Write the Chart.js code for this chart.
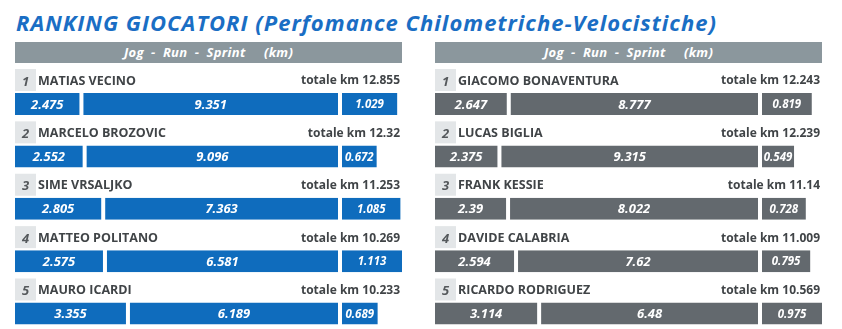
<!DOCTYPE html>
<html>
<head>
<meta charset="utf-8">
<script src="https://cdn.jsdelivr.net/npm/chart.js@4.4.1/dist/chart.umd.min.js"></script>
<style>
  html, body { margin: 0; padding: 0; background: #ffffff; }
  body { width: 842px; height: 329px; position: relative; overflow: hidden; font-family: "Open Sans", sans-serif; }
  #title { position: absolute; left: 16px; top: 11px; font: italic 700 22px/22px "Open Sans", sans-serif;
           letter-spacing: 1px; color: #1a6ec4; white-space: nowrap; }
  .head { position: absolute; top: 42px; width: 387px; height: 21px; background: #8b979d; color: #ffffff;
          font: italic 700 13px/21px "Open Sans", sans-serif; letter-spacing: 0.3px; text-align: center; white-space: pre; }
  .panel { position: absolute; top: 64px; width: 391px; height: 265px; }
</style>
</head>
<body>
<div id="title">RANKING GIOCATORI (Perfomance Chilometriche-Velocistiche)</div>
<div class="head" style="left:15px">Jog  -  Run  -  Sprint     (km)</div>
<div class="head" style="left:435px">Jog  -  Run  -  Sprint     (km)</div>
<div class="panel" style="left:13px"><canvas id="leftChart" width="391" height="265"></canvas></div>
<div class="panel" style="left:433px"><canvas id="rightChart" width="391" height="265"></canvas></div>

<script>
// Ranking positions
const ranks = [1, 2, 3, 4, 5];

// Left table (blue)
const leftPlayers = ['MATIAS VECINO', 'MARCELO BROZOVIC', 'SIME VRSALJKO', 'MATTEO POLITANO', 'MAURO ICARDI'];
const leftJog     = [2.475, 2.552, 2.805, 2.575, 3.355];
const leftRun     = [9.351, 9.096, 7.363, 6.581, 6.189];
const leftSprint  = [1.029, 0.672, 1.085, 1.113, 0.689];
const leftTotal   = [12.855, 12.32, 11.253, 10.269, 10.233];

// Right table (grey)
const rightPlayers = ['GIACOMO BONAVENTURA', 'LUCAS BIGLIA', 'FRANK KESSIE', 'DAVIDE CALABRIA', 'RICARDO RODRIGUEZ'];
const rightJog     = [2.647, 2.375, 2.39, 2.594, 3.114];
const rightRun     = [8.777, 9.315, 8.022, 7.62, 6.48];
const rightSprint  = [0.819, 0.549, 0.728, 0.795, 0.975];
const rightTotal   = [12.243, 12.239, 11.14, 11.009, 10.569];

const FONT = '"Open Sans", sans-serif';

// Draws the row headings (rank box, name, total) and the value inside each bar
function makeDecor(players, totals) {
  return {
    id: 'rowDecor',
    afterDatasetsDraw(chart) {
      const ctx = chart.ctx;
      const yScale = chart.scales.y;
      const area = chart.chartArea;
      const left = area.left + 2;
      const right = area.right - 2;
      ctx.save();

      chart.data.datasets.forEach((ds, di) => {
        const meta = chart.getDatasetMeta(di);
        meta.data.forEach((bar, i) => {
          const cx = (bar.x + bar.base) / 2;
          ctx.fillStyle = '#ffffff';
          ctx.font = 'italic 700 ' + (ds.label === 'Sprint' ? 11.5 : 13) + 'px ' + FONT;
          ctx.textAlign = 'center';
          ctx.textBaseline = 'middle';
          ctx.fillText(String(ds.values[i]), cx, bar.y + 1);
        });
      });

      players.forEach((name, i) => {
        const barTop = yScale.getPixelForValue(i) - 11;
        const mid = barTop - 12;
        ctx.fillStyle = '#e3e6e8';
        ctx.fillRect(left, barTop - 24, 21, 22);
        ctx.fillStyle = '#55595c';
        ctx.font = 'italic 700 13px ' + FONT;
        ctx.textAlign = 'center';
        ctx.textBaseline = 'middle';
        ctx.fillText(String(ranks[i]), left + 10.5, mid + 1);

        ctx.fillStyle = '#404447';
        ctx.font = '700 12.5px ' + FONT;
        ctx.textAlign = 'left';
        ctx.fillText(name, left + 23, mid);

        ctx.font = '700 12px ' + FONT;
        ctx.textAlign = 'right';
        ctx.fillText('totale km ' + totals[i], right - 2, mid);
      });
      ctx.restore();
    }
  };
}

function buildPanel(canvasId, color, players, jog, run, sprint, totals) {
  const jogRun = jog.map((v, i) => v + run[i]);
  const barStyle = {
    backgroundColor: color,
    borderColor: '#ffffff',
    borderWidth: { left: 2, right: 2, top: 0, bottom: 0 },
    borderSkipped: false,
    inflateAmount: 0,
    barThickness: 22,
    grouped: false,
    clip: false
  };
  return new Chart(document.getElementById(canvasId), {
    type: 'bar',
    data: {
      labels: players,
      datasets: [
        Object.assign({ label: 'Jog', xAxisID: 'x', values: jog,
          data: jog.map((v, i) => v / jogRun[i]) }, barStyle),
        Object.assign({ label: 'Run', xAxisID: 'x', values: run,
          data: run.map((v, i) => v / jogRun[i]) }, barStyle),
        Object.assign({ label: 'Sprint', xAxisID: 'x2', values: sprint,
          data: sprint }, barStyle)
      ]
    },
    options: {
      indexAxis: 'y',
      responsive: false,
      animation: false,
      events: [],
      layout: { padding: { top: 40, bottom: 15.5, left: 0, right: 0 } },
      scales: {
        y: { type: 'category', offset: false, display: false, grid: { display: false } },
        x: { type: 'linear', position: 'bottom', stack: 'row', stackWeight: 327,
             stacked: true, min: 0, max: 1, display: false, grid: { display: false } },
        x2: { type: 'linear', position: 'bottom', stack: 'row', stackWeight: 64,
              min: 0, max: Math.max(...sprint), display: false, grid: { display: false } }
      },
      plugins: { legend: { display: false }, tooltip: { enabled: false }, title: { display: false } }
    },
    plugins: [makeDecor(players, totals)]
  });
}

buildPanel('leftChart', '#0f6cbd', leftPlayers, leftJog, leftRun, leftSprint, leftTotal);
buildPanel('rightChart', '#63696e', rightPlayers, rightJog, rightRun, rightSprint, rightTotal);
</script>
</body>
</html>
